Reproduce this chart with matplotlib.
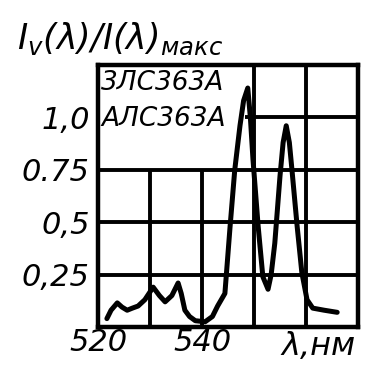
import matplotlib
matplotlib.use("Agg")
import matplotlib.pyplot as plt

# data
wl = [521.7, 522.5, 523.7, 524.6, 525.6, 526.6, 527.7, 529.0, 530.6, 531.8, 532.9,
      534.2, 535.4, 536.0, 536.7, 537.6, 538.7, 540.6, 542.0, 543.0, 544.4, 545.4,
      546.3, 547.3, 548.0, 548.8, 549.3, 549.8, 550.8, 551.7, 552.7, 553.3, 554.0,
      555.0, 555.6, 556.2, 556.8, 557.3, 558.3, 559.2, 560.2, 561.3, 563.5, 566.0]
rel = [0.04, 0.08, 0.115, 0.095, 0.08, 0.09, 0.10, 0.13, 0.19, 0.15, 0.12,
       0.15, 0.21, 0.16, 0.08, 0.05, 0.03, 0.025, 0.05, 0.10, 0.16, 0.48,
       0.75, 0.96, 1.08, 1.14, 1.0, 0.80, 0.48, 0.24, 0.18, 0.25, 0.40,
       0.72, 0.88, 0.96, 0.88, 0.75, 0.48, 0.26, 0.13, 0.09, 0.08, 0.07]

yticks = [0.25, 0.5, 0.75, 1.0]
ytick_labels = ["0,25", "0,5", "0.75", "1,0"]
xticks = [520, 540]
xtick_labels = ["520", "540"]
devices = ["3ЛС363А", "АЛС363А"]

plt.rcParams["font.family"] = ["DejaVu Sans"]
plt.rcParams["font.style"] = "italic"

fig = plt.figure(figsize=(3.7, 3.67), dpi=100)
ax = fig.add_axes([0.265, 0.109, 0.7025, 0.714])
ax.set_xlim(520, 570)
ax.set_ylim(0, 1.25)

lw = 2.8
# grid, with the upper-left cell left clear for the labels
ax.vlines([530, 540], 0, 0.75, color="black", lw=lw)
ax.vlines([550, 560], 0, 1.25, color="black", lw=lw)
ax.hlines([0.25, 0.5, 0.75], 520, 570, color="black", lw=lw)
ax.hlines(1.0, 548.3, 570, color="black", lw=lw)

ax.plot(wl, rel, color="black", lw=3.6, solid_joinstyle="round", solid_capstyle="round")

for s in ax.spines.values():
    s.set_linewidth(3.2)

ax.set_yticks(yticks)
ax.set_yticklabels(ytick_labels, fontsize=22, style="italic")
ax.set_xticks(xticks)
ax.set_xticklabels(xtick_labels, fontsize=22, style="italic")
ax.tick_params(axis="y", length=0, pad=6)
ax.tick_params(axis="x", length=0, pad=1)

ax.text(520.6, 1.225, devices[0], fontsize=19, style="italic", va="top", ha="left")
ax.text(520.6, 0.99, devices[1], fontsize=19, style="italic", va="center", ha="left")
ax.text(569.5, -0.02, "λ,нм", fontsize=23, style="italic", va="top", ha="right")

fig.text(0.045, 0.895, r"$I_v(\lambda)/I(\lambda)_{\mathit{макс}}$", fontsize=25,
         va="center", ha="left")

fig.savefig("out.png", dpi=100)
